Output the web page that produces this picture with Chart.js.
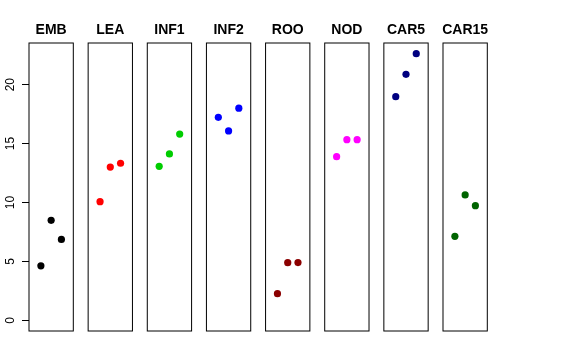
<!DOCTYPE html>
<html>
<head>
<meta charset="utf-8">
<script src="https://cdn.jsdelivr.net/npm/chart.js@4"></script>
<style>
  body { margin: 0; background: #fff; }
</style>
</head>
<body>
<canvas id="chart" width="576" height="360"></canvas>
<script>
// panels and their values (3 points each)
var panels = ['EMB', 'LEA', 'INF1', 'INF2', 'ROO', 'NOD', 'CAR5', 'CAR15'];
var colours = ['#000000', '#FF0000', '#00CD00', '#0000FF', '#8B0000', '#FF00FF', '#000080', '#006400'];
var emb = [4.63, 8.49, 6.87];
var lea = [10.07, 13.01, 13.33];
var inf1 = [13.07, 14.12, 15.81];
var inf2 = [17.23, 16.07, 18.0];
var roo = [2.26, 4.89, 4.9];
var nod = [13.89, 15.33, 15.33];
var car5 = [18.98, 20.88, 22.63];
var car15 = [7.13, 10.64, 9.73];
var yTicks = [0, 5, 10, 15, 20];

var series = [emb, lea, inf1, inf2, roo, nod, car5, car15];

// each panel spans x from 0 to 4 (plus 4% like R), panels placed side by side
var step = 5.767, pad = 0.16;
var font = '"Liberation Sans", Arial, sans-serif';

var datasets = series.map(function (vals, i) {
  return {
    label: panels[i],
    data: vals.map(function (v, j) { return { x: i * step + j + 1, y: v }; }),
    backgroundColor: colours[i],
    borderWidth: 0,
    pointRadius: 3.6,
    pointHoverRadius: 3.6
  };
});

var panelPlugin = {
  id: 'panels',
  afterDatasetsDraw: function (chart) {
    var ctx = chart.ctx, xs = chart.scales.x, ys = chart.scales.y, area = chart.chartArea;
    ctx.save();
    ctx.strokeStyle = '#000';
    ctx.lineWidth = 1;
    ctx.fillStyle = '#000';
    ctx.textAlign = 'center';
    ctx.textBaseline = 'middle';
    ctx.font = 'bold 14px ' + font;
    panels.forEach(function (name, i) {
      var l = xs.getPixelForValue(i * step - pad);
      var r = xs.getPixelForValue(i * step + 4 + pad);
      ctx.strokeRect(l, area.top, r - l, area.bottom - area.top);
      ctx.fillText(name, xs.getPixelForValue(i * step + 2), 30);
    });
    // y tick labels, rotated like R does them
    ctx.font = '12px ' + font;
    yTicks.forEach(function (v) {
      ctx.save();
      ctx.translate(11, ys.getPixelForValue(v));
      ctx.rotate(-Math.PI / 2);
      ctx.fillText(String(v), 0, 0);
      ctx.restore();
    });
    ctx.restore();
  }
};

var ctx = document.getElementById('chart').getContext('2d');
var myChart = new Chart(ctx, {
  type: 'scatter',
  data: { datasets: datasets },
  options: {
    responsive: false,
    animation: false,
    events: [],
    layout: { padding: { top: 43, bottom: 29, right: 88.7, left: 0 } },
    plugins: {
      legend: { display: false },
      tooltip: { enabled: false }
    },
    scales: {
      x: {
        type: 'linear',
        display: false,
        min: -pad,
        max: 7 * step + 4 + pad
      },
      y: {
        type: 'linear',
        min: -0.905,
        max: 23.535,
        afterBuildTicks: function (axis) {
          axis.ticks = yTicks.map(function (v) { return { value: v }; });
        },
        afterFit: function (axis) { axis.width = 29; },
        border: { display: false },
        grid: {
          drawOnChartArea: false,
          tickLength: 7,
          color: '#000',
          tickColor: '#000'
        },
        ticks: { display: false }
      }
    }
  },
  plugins: [panelPlugin]
});
</script>
</body>
</html>
